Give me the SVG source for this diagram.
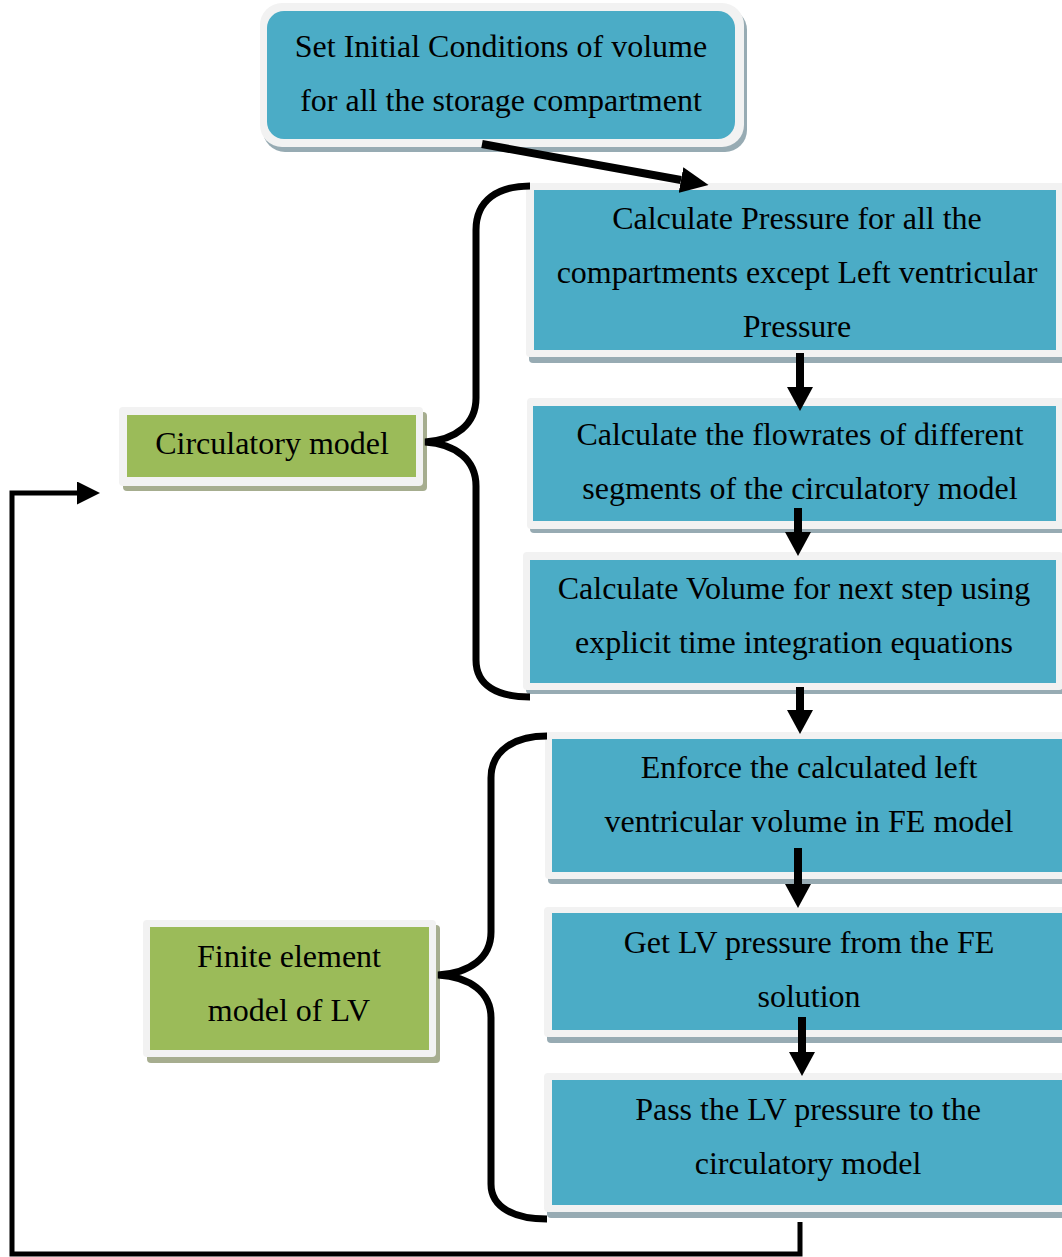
<svg xmlns="http://www.w3.org/2000/svg" width="1062" height="1257" viewBox="0 0 1062 1257">
<style>
.frame{fill:#f2f2f2}
.bshadow{fill:#97abb3}
.gshadow{fill:#a6ad8f}
.teal{fill:#4bacc6}
.green{fill:#9bbb59}
text{font-family:"Liberation Serif","Times New Roman",serif;font-size:32px;fill:#000;text-anchor:middle}
.brace{fill:none;stroke:#000;stroke-width:7}
.arr{fill:none;stroke:#000;stroke-width:8}
.fb{fill:none;stroke:#000;stroke-width:5}
</style>
<defs>
<marker id="ah" markerUnits="userSpaceOnUse" markerWidth="24" markerHeight="26" refX="0" refY="13" orient="auto" viewBox="0 0 24 26">
<path d="M0,0 L24,13 L0,26 z" fill="#000"/>
</marker>
<marker id="ahd" markerUnits="userSpaceOnUse" markerWidth="28" markerHeight="26" refX="0" refY="13" orient="auto" viewBox="0 0 28 26">
<path d="M0,0 L28,13 L0,26 z" fill="#000"/>
</marker>
<marker id="ahf" markerUnits="userSpaceOnUse" markerWidth="23" markerHeight="23" refX="0" refY="11.5" orient="auto" viewBox="0 0 23 23">
<path d="M0,0 L23,11.5 L0,23 z" fill="#000"/>
</marker>
</defs>

<g id="node-init">
<rect class="bshadow" x="263" y="8" width="484" height="144" rx="22"/>
<rect class="frame" x="260" y="3" width="484" height="144" rx="22"/>
<rect class="teal" x="267" y="11" width="468" height="128" rx="17"/>
<text x="501" y="57">Set Initial Conditions of volume</text>
<text x="501" y="111">for all the storage compartment</text>
</g>

<g id="node-pressure">
<rect class="bshadow" x="529" y="189" width="540" height="174" rx="4"/>
<rect class="frame" x="526" y="183" width="540" height="174" rx="4"/>
<rect class="teal" x="534" y="190" width="522" height="160"/>
<text x="797" y="229">Calculate Pressure for all the</text>
<text x="797" y="283">compartments except Left ventricular</text>
<text x="797" y="337">Pressure</text>
</g>

<g id="node-flowrates">
<rect class="bshadow" x="530" y="403" width="540" height="130" rx="4"/>
<rect class="frame" x="527" y="398" width="540" height="131" rx="4"/>
<rect class="teal" x="533" y="406" width="523" height="115"/>
<text x="800" y="445">Calculate the flowrates of different</text>
<text x="800" y="499">segments of the circulatory model</text>
</g>

<g id="node-volume">
<rect class="bshadow" x="526" y="557" width="540" height="137" rx="4"/>
<rect class="frame" x="523" y="552" width="540" height="138" rx="4"/>
<rect class="teal" x="530" y="560" width="526" height="123"/>
<text x="794" y="599">Calculate Volume for next step using</text>
<text x="794" y="653">explicit time integration equations</text>
</g>

<g id="node-circulatory">
<rect class="gshadow" x="123" y="412" width="304" height="79" rx="4"/>
<rect class="frame" x="119" y="407" width="304" height="79" rx="4"/>
<rect class="green" x="127" y="415" width="289" height="62"/>
<text x="272" y="454">Circulatory model</text>
</g>

<g id="node-enforce">
<rect class="bshadow" x="548" y="737" width="530" height="147" rx="4"/>
<rect class="frame" x="545" y="732" width="530" height="147" rx="4"/>
<rect class="teal" x="552" y="739" width="520" height="133"/>
<text x="809" y="778">Enforce the calculated left</text>
<text x="809" y="832">ventricular volume in FE model</text>
</g>

<g id="node-getlv">
<rect class="bshadow" x="547" y="912" width="530" height="131" rx="4"/>
<rect class="frame" x="544" y="907" width="530" height="130" rx="4"/>
<rect class="teal" x="552" y="913" width="520" height="117"/>
<text x="809" y="953">Get LV pressure from the FE</text>
<text x="809" y="1007">solution</text>
</g>

<g id="node-pass">
<rect class="bshadow" x="547" y="1078" width="530" height="140" rx="4"/>
<rect class="frame" x="544" y="1073" width="530" height="139" rx="4"/>
<rect class="teal" x="552" y="1080" width="520" height="125"/>
<text x="808" y="1120">Pass the LV pressure to the</text>
<text x="808" y="1174">circulatory model</text>
</g>

<g id="node-fe">
<rect class="gshadow" x="147" y="925" width="293" height="138" rx="4"/>
<rect class="frame" x="143" y="920" width="293" height="137" rx="4"/>
<rect class="green" x="150" y="927" width="279" height="123"/>
<text x="289" y="967">Finite element</text>
<text x="289" y="1021">model of LV</text>
</g>

<g id="connectors">
<path class="brace" d="M530,186 C498,186 476,200 476,230 L476,398 C476,424 456,440 425,442 C456,444 476,460 476,486 L476,660 C476,686 498,697 530,697"/>
<path class="brace" d="M547,736 C515,736 491,750 491,778 L491,932 C491,958 470,973 438,975 C470,977 491,992 491,1018 L491,1184 C491,1208 515,1219 547,1219"/>
<line class="arr" x1="482" y1="144" x2="681" y2="180" marker-end="url(#ahd)"/>
<line class="arr" x1="800" y1="353" x2="800" y2="387" marker-end="url(#ah)"/>
<line class="arr" x1="798" y1="508" x2="798" y2="532" marker-end="url(#ah)"/>
<line class="arr" x1="800" y1="687" x2="800" y2="710" marker-end="url(#ah)"/>
<line class="arr" x1="798" y1="848" x2="798" y2="884" marker-end="url(#ah)"/>
<line class="arr" x1="802" y1="1017" x2="802" y2="1052" marker-end="url(#ah)"/>
<path class="fb" d="M800,1222 L800,1254 L12,1254 L12,493 L77,493" marker-end="url(#ahf)"/>
</g>
</svg>
